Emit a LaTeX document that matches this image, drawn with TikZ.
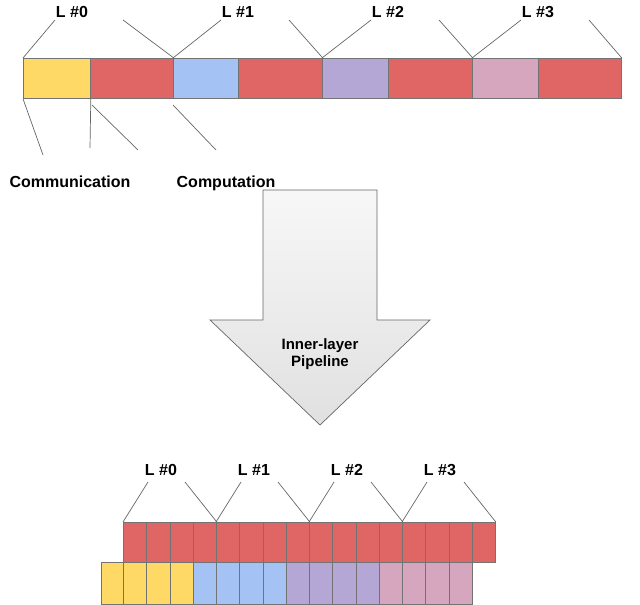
\documentclass[tikz,border=0pt]{standalone}
\usepackage{fontspec}
\setmainfont{Liberation Sans}
\begin{document}
\begin{tikzpicture}[x=1pt,y=-1pt,
  cell/.style={draw=black!55,line width=0.8pt,minimum height=40pt,inner sep=0pt,anchor=north west},
  lbl/.style={font=\bfseries\fontsize{16}{18}\selectfont,inner sep=0pt},
  small/.style={font=\bfseries\fontsize{15}{17}\selectfont,inner sep=0pt},
  lead/.style={draw=black!60,line width=0.7pt}]
\definecolor{cr}{HTML}{E06666}\definecolor{cy}{HTML}{FFD966}
\definecolor{cb}{HTML}{A4C2F4}\definecolor{cp}{HTML}{B4A7D6}\definecolor{ck}{HTML}{D5A6BD}
\useasboundingbox (0,0) rectangle (640,605);
% top bar
\node[cell,fill=cy,minimum width=67pt] (t1) at (23,58) {};
\node[cell,fill=cr,minimum width=83pt] (t2) at (90,58) {};
\node[cell,fill=cb,minimum width=65pt] (t3) at (173,58) {};
\node[cell,fill=cr,minimum width=84pt] (t4) at (238,58) {};
\node[cell,fill=cp,minimum width=66pt] (t5) at (322,58) {};
\node[cell,fill=cr,minimum width=84pt] (t6) at (388,58) {};
\node[cell,fill=ck,minimum width=66pt] (t7) at (472,58) {};
\node[cell,fill=cr,minimum width=83pt] (t8) at (538,58) {};
\foreach \i/\a/\b/\xl in {0/t1/t2/72,1/t3/t4/238,2/t5/t6/388,3/t7/t8/538}{
  \node[lbl] (L\i) at (\xl,12) {L \#\i};
  \coordinate (la\i) at (\xl-17,20); \coordinate (lb\i) at (\xl+51,20);
  \draw[lead] (\a.north west) -- (la\i);
  \draw[lead] (lb\i) -- (\b.north east);
}
\node[lbl] (comm) at (70,182) {Communication};
\node[lbl] (comp) at (226,183) {Computation};
\coordinate (c1) at (43,155); \coordinate (c2) at (90,148);
\coordinate (c3) at (92,105); \coordinate (c4) at (138,150);
\coordinate (c5) at (173,105); \coordinate (c6) at (216,150);
\draw[lead] (t1.south west) -- (c1);
\draw[lead] (t1.south east) -- (c2);
\draw[lead] (c3) -- (c4);
\draw[lead] (c5) -- (c6);
% arrow
\draw[draw=black!60,line width=0.7pt,top color=black!3,bottom color=black!12]
  (263,190) -- (377,190) -- (377,320) -- (430,320) -- (320,425) -- (210,320) -- (263,320) -- cycle;
\node[small,align=center] (arr) at (320,354) {Inner-layer\\Pipeline};
% bottom
\foreach \i in {0,...,15}{
  \node[cell,fill=cr,minimum width=23.25pt] (r\i) at ({123+23.25*\i},522) {};
}
\node[cell,fill=cy,minimum width=22pt,minimum height=42pt] (y0) at (101,562) {};
\foreach \i in {0,...,14}{
  \pgfmathsetmacro\g{int(\i/4+0.25)}
  \ifcase\g \def\cc{cy}\or\def\cc{cb}\or\def\cc{cp}\or\def\cc{ck}\fi
  \node[cell,fill=\cc,minimum width=23.25pt,minimum height=42pt] (b\i) at ({123+23.25*\i},562) {};
}
\foreach \i/\a/\b/\xl in {0/r0/r3/161,1/r4/r7/254,2/r8/r11/347,3/r12/r15/440}{
  \node[lbl] (M\i) at (\xl,470) {L \#\i};
  \coordinate (ma\i) at (\xl-13,482); \coordinate (mb\i) at (\xl+24,482);
  \draw[lead] (\a.north west) -- (ma\i);
  \draw[lead] (mb\i) -- (\b.north east);
}
\end{tikzpicture}
\end{document}
